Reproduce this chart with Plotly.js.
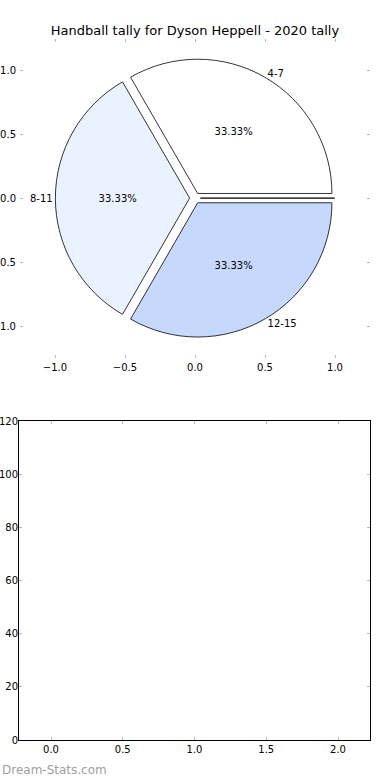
<!DOCTYPE html>
<html>
<head>
<meta charset="utf-8">
<script src="https://cdn.plot.ly/plotly-3.0.1.min.js"></script>
<style>html,body{margin:0;padding:0;background:#fff;}#chart{width:390px;height:780px;}</style>
</head>
<body>
<div id="chart"></div>
<script>
// ---- data ----
const ageGroups = ["4-7", "8-11", "12-15", "0-3"];
const tallyShare = [33.33, 33.33, 33.33, 0];
const sliceColors = ["#ffffff", "#ebf2ff", "#c6d9fd", "#ffffff"];
const barCategories = [0, 1, 2];
const barValues = [0, 0, 0];
const pieTicks = [-1.0, -0.5, 0.0, 0.5, 1.0];
const barXTicks = [0.0, 0.5, 1.0, 1.5, 2.0];
const barYTicks = [0, 20, 40, 60, 80, 100, 120];
const chartTitle = "Handball tally for Dyson Heppell - 2020 tally";
const watermark = "Dream-Stats.com";

const W = 390, H = 780;
const font = {family: "DejaVu Sans", size: 10, color: "#000"};
const pull = 0.04;
const pieDomain = {x: [0.142, 0.858], y: [0.567, 0.925]};

const pieFill = {
  type: "pie", labels: ageGroups, values: tallyShare, sort: false,
  direction: "counterclockwise", rotation: -30, pull: pull,
  domain: pieDomain,
  marker: {colors: sliceColors, line: {color: "#000", width: 0.8}},
  textinfo: "percent", textposition: "inside", insidetextorientation: "horizontal",
  texttemplate: ageGroups.map((g, i) => tallyShare[i] > 0 ? "%{percent:.2%}" : ""),
  textfont: {family: "DejaVu Sans", size: 10, color: "#000"},
  showlegend: false, hoverinfo: "label+percent"
};
const pieLabels = {
  type: "pie", labels: ageGroups, values: tallyShare, sort: false,
  direction: "counterclockwise", rotation: -30, pull: pull,
  domain: pieDomain,
  marker: {colors: ageGroups.map(() => "rgba(0,0,0,0)"), line: {width: 0}},
  textinfo: "label", textposition: "outside",
  texttemplate: ageGroups.map((g, i) => tallyShare[i] > 0 ? "%{label}" : ""),
  textfont: {family: "DejaVu Sans", size: 10, color: "#000"},
  showlegend: false, hoverinfo: "skip"
};
// empty trace that registers the pie's cartesian frame (ticks only)
const pieFrame = {type: "scatter", x: [], y: [], xaxis: "x", yaxis: "y", showlegend: false, hoverinfo: "skip"};
const bars = {
  type: "bar", x: barCategories, y: barValues, xaxis: "x2", yaxis: "y2",
  marker: {color: "#c6d9fd"}, showlegend: false
};

const tickStyle = {ticks: "inside", ticklen: 3, tickcolor: "#bbbbbb", tickwidth: 1,
  showgrid: false, zeroline: false, tickfont: font, fixedrange: true};
const fmt = v => (v < 0 ? "\u2212" : "") + Math.abs(v).toFixed(1);

const layout = {
  width: W, height: H, margin: {l: 0, r: 0, t: 0, b: 0},
  paper_bgcolor: "#fff", plot_bgcolor: "rgba(0,0,0,0)",
  font: font, showlegend: false,
  title: {text: chartTitle, x: 0.5, xanchor: "center", y: 1 - 30 / H, yanchor: "middle",
    font: {family: "DejaVu Sans", size: 13, color: "#000"}},
  xaxis: Object.assign({}, tickStyle, {domain: [20 / W, 370 / W], range: [-1.25, 1.25],
    tickvals: pieTicks, ticktext: pieTicks.map(fmt),
    showline: false, mirror: "ticks", anchor: "y", ticklabelstandoff: 2}),
  yaxis: Object.assign({}, tickStyle, {domain: [1 - 358 / H, 1 - 39 / H], range: [-1.25, 1.25],
    tickvals: pieTicks, ticktext: pieTicks.map(fmt),
    showline: false, mirror: "ticks", anchor: "x", ticklabelstandoff: 3}),
  xaxis2: Object.assign({}, tickStyle, {domain: [19 / W, 370 / W], range: [-0.223, 2.223],
    tickvals: barXTicks, ticktext: barXTicks.map(v => v.toFixed(1)),
    showline: true, linecolor: "#000", linewidth: 1, mirror: "ticks", anchor: "y2", ticklabelstandoff: 0}),
  yaxis2: Object.assign({}, tickStyle, {domain: [1 - 740 / H, 1 - 421 / H], range: [0, 120],
    tickvals: barYTicks, showline: true, linecolor: "#000", linewidth: 1, mirror: "ticks", anchor: "x2", ticklabelstandoff: -2}),
  annotations: [{text: watermark, xref: "paper", yref: "paper", x: 0, y: 1 - 770 / H,
    xanchor: "left", yanchor: "middle", showarrow: false,
    font: {family: "DejaVu Sans", size: 12, color: "#a0a0a0"}}]
};

Plotly.newPlot("chart", [pieFrame, bars, pieFill, pieLabels], layout, {staticPlot: true, displayModeBar: false});
</script>
</body>
</html>
